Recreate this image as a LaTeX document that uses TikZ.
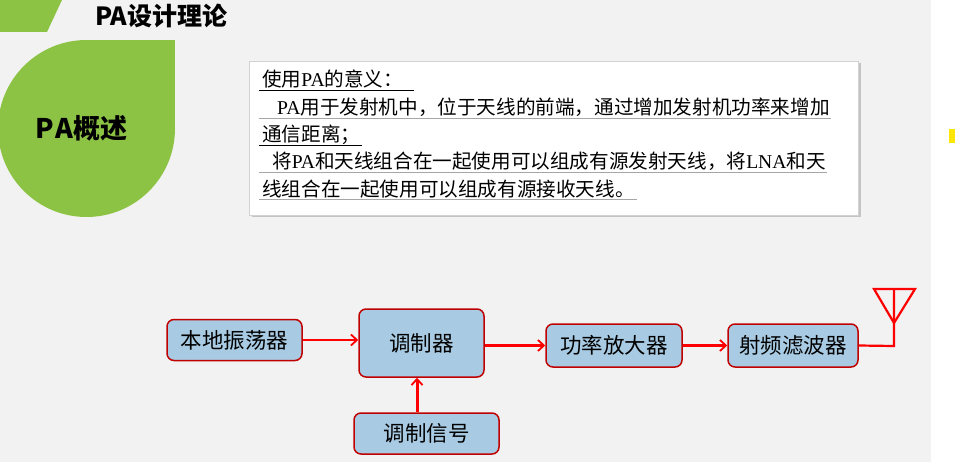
\documentclass[tikz,border=0pt]{standalone}
\usepackage{fontspec}
\setmainfont{Noto Sans CJK SC}
\newfontfamily\lserif{Liberation Serif}
\usetikzlibrary{arrows.meta,shadows}
\definecolor{bggray}{HTML}{F2F2F2}
\definecolor{leafgreen}{HTML}{8DC345}
\definecolor{boxblue}{HTML}{A8CBE3}
\definecolor{boxred}{HTML}{C00000}
\definecolor{linered}{HTML}{FF0000}
\definecolor{markyellow}{HTML}{FFE600}
\tikzset{
  blockbox/.style={draw=boxred,fill=boxblue,line width=1.5pt,rounded corners=7pt,
    inner sep=0pt,font=\fontsize{21.5}{24}\selectfont},
  sigline/.style={draw=linered,line width=2.2pt},
  sigarrow/.style={sigline,-{Straight Barb[length=6pt,width=11pt,line width=1.8pt]}},
  txtline/.style={anchor=base west,inner sep=0pt,font=\fontsize{19.6}{22}\selectfont},
  uline/.style={line width=0.8pt},
}
\begin{document}
\begin{tikzpicture}[x=1pt,y=-1pt]
\useasboundingbox (0,0) rectangle (955,462);
\fill[white] (0,0) rectangle (955,462);
\fill[bggray] (0,0) rectangle (931,462);
\fill[markyellow] (949,129) rectangle (955,143);
% title band
\fill[leafgreen] (0,0) -- (62,0) -- (47,32) -- (0,32) -- cycle;
\node[anchor=west,inner sep=0pt,font=\fontsize{25}{28}\selectfont\bfseries] (title) at (95,16) {PA设计理论};
% leaf
\fill[leafgreen] (86.5,128.5) circle[radius=88.5pt];
\fill[leafgreen] (86.5,40) rectangle (175,128.5);
\node[inner sep=0pt,font=\fontsize{27}{30}\selectfont\bfseries] (overview) at (81.5,128) {P\kern1ptA概述};
% text box
\fill[white,draw=gray!35,line width=0.6pt,drop shadow={shadow xshift=2.5pt,shadow yshift=-2.5pt,fill=gray!70,opacity=0.6}] (249,61) rectangle (858,215);
\node[txtline] (l1) at (262,87) {使用{\lserif PA}的意义：};
\node[txtline] (l2) at (277,115) {{\lserif PA}用于发射机中，位于天线的前端，通过增加发射机功率来增加};
\node[txtline] (l3) at (262,142) {通信距离；};
\node[txtline] (l4) at (272,169) {将{\lserif PA}和天线组合在一起使用可以组成有源发射天线，将{\lserif LNA}和天};
\node[txtline] (l5) at (262,197) {线组合在一起使用可以组成有源接收天线。};
\draw[uline,black] (259,90) -- (414,90);
\draw[uline,gray!70] (259,118) -- (831,118);
\draw[uline,black] (259,145) -- (362,145);
\draw[uline,gray!70] (259,172) -- (827,172);
\draw[uline,gray!70] (259,199) -- (637,199);
% block diagram
\node[blockbox,minimum width=135pt,minimum height=41pt] (lo) at (234.5,340) {本地振荡器};
\node[blockbox,minimum width=125pt,minimum height=68pt] (mod) at (421.5,343) {调制器};
\node[blockbox,minimum width=145pt,minimum height=41pt] (sig) at (426.5,433.5) {调制信号};
\node[blockbox,minimum width=136pt,minimum height=43pt] (pa) at (614,345.5) {功率放大器};
\node[blockbox,minimum width=130pt,minimum height=43pt] (rf) at (793,345.5) {射频滤波器};
\draw[sigarrow] (lo.east) -- (lo.east -| mod.west);
\draw[sigarrow,line width=3pt] (sig.north -| 417,0) -- (mod.south -| 417,0);
\draw[sigarrow] (mod.east |- pa.west) -- (pa.west);
\draw[sigarrow] (pa.east) -- (rf.west);
\coordinate (corner) at (894,346);
\coordinate (apex) at (894,323);
\coordinate (tl) at (874,289);
\coordinate (tr) at (915,289);
\coordinate (top) at (894,289);
\draw[sigline,line join=miter] (rf.east) -- (corner) -- (top);
\draw[sigline,line join=miter] (tl) -- (tr) -- (apex) -- cycle;
\end{tikzpicture}
\end{document}
